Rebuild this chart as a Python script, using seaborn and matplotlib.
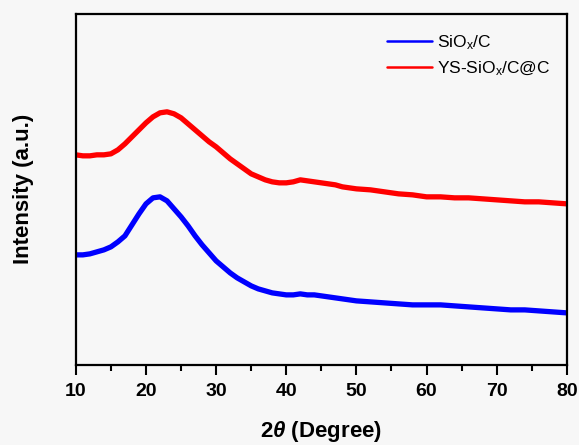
import matplotlib
matplotlib.use("Agg")
import matplotlib.pyplot as plt
import seaborn as sns
import pandas as pd
from matplotlib.ticker import MultipleLocator

sns.set_theme(style="ticks")
plt.rcParams['font.family'] = ['Liberation Sans', 'DejaVu Sans']
plt.rcParams['mathtext.fontset'] = 'custom'
plt.rcParams['mathtext.rm'] = 'Liberation Sans'
plt.rcParams['mathtext.it'] = 'Liberation Sans:italic:bold'
plt.rcParams['mathtext.bf'] = 'Liberation Sans:bold'
plt.rcParams['text.color'] = 'black'
plt.rcParams['axes.labelcolor'] = 'black'
plt.rcParams['xtick.color'] = 'black'
plt.rcParams['ytick.color'] = 'black'

# 2-theta positions (degree)
theta_blue = [10, 11, 12, 13, 14, 15, 16, 17, 18, 19, 20, 21, 22, 23, 24, 25, 26, 27, 28, 29,
              30, 31, 32, 33, 34, 35, 36, 37, 38, 39, 40, 41, 42, 43, 44, 45, 46, 47, 48, 49,
              50, 52, 54, 56, 58, 60, 62, 64, 66, 68, 70, 72, 74, 76, 78, 80]
# SiOx/C intensity (a.u.)
int_blue = [110, 110, 111, 113, 115, 118, 123, 129, 140, 151, 161, 167, 168, 164, 156, 148,
            139, 129, 120, 112, 104, 98, 92, 87, 83, 79, 76, 74, 72, 71, 70, 70, 71, 70, 70,
            69, 68, 67, 66, 65, 64, 63, 62, 61, 60, 60, 60, 59, 58, 57, 56, 55, 55, 54, 53, 52]

theta_red = theta_blue
# YS-SiOx/C@C intensity (a.u.)
int_red = [210, 209, 209, 210, 210, 211, 215, 221, 228, 235, 242, 248, 252, 253, 251, 247,
           241, 235, 229, 223, 218, 212, 206, 201, 196, 191, 188, 185, 183, 182, 182, 183,
           185, 184, 183, 182, 181, 180, 178, 177, 176, 175, 173, 171, 170, 168, 168, 167,
           167, 166, 165, 164, 163, 163, 162, 161]

labels = [r"SiO$_\mathrm{x}$/C", r"YS-SiO$_\mathrm{x}$/C@C"]
colors = ["#0000ff", "#ff0000"]

df = pd.concat([
    pd.DataFrame({"theta": theta_blue, "I": int_blue, "sample": labels[0]}),
    pd.DataFrame({"theta": theta_red, "I": int_red, "sample": labels[1]}),
])

fig = plt.figure(figsize=(5.79, 4.45), dpi=100)
fig.patch.set_facecolor("#f7f7f7")
ax = fig.add_axes([0.131, 0.180, 0.848, 0.789])
ax.set_facecolor("#f7f7f7")

sns.lineplot(data=df, x="theta", y="I", hue="sample", palette=colors,
             hue_order=labels, linewidth=3.8, ax=ax, legend=True)

ax.set_xlim(10, 80)
ax.set_ylim(0, 351)
ax.set_yticks([])
ax.xaxis.set_major_locator(MultipleLocator(10))
ax.xaxis.set_minor_locator(MultipleLocator(5))
ax.tick_params(axis="x", which="major", direction="out", length=7, width=1.5,
               labelsize=14, pad=6, colors="black")
ax.tick_params(axis="x", which="minor", direction="out", length=4, width=1.5,
               colors="black")
for lab in ax.get_xticklabels():
    lab.set_fontweight("bold")
for s in ax.spines.values():
    s.set_visible(True)
    s.set_linewidth(1.6)
    s.set_color("black")

ax.set_xlabel(r"2$\theta$ (Degree)", fontsize=16, fontweight="bold", labelpad=14,
              color="black")
ax.set_ylabel("Intensity (a.u.)", fontsize=16, fontweight="bold", labelpad=30,
              color="black")

leg = ax.legend(loc="upper right", frameon=False, fontsize=12.5, handlelength=2.6,
                handletextpad=0.3, labelspacing=0.45, borderaxespad=0.4,
                bbox_to_anchor=(0.995, 0.985))
for line in leg.get_lines():
    line.set_linewidth(1.8)
for t in leg.get_texts():
    t.set_color("black")

fig.savefig("out.png", dpi=100, facecolor=fig.get_facecolor())
